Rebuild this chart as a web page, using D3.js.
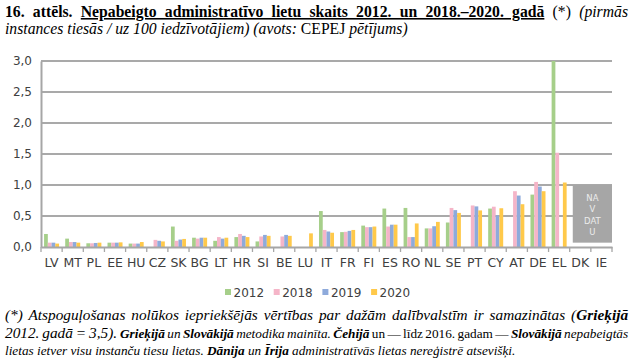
<!DOCTYPE html>
<html><head><meta charset="utf-8">
<script src="https://cdn.jsdelivr.net/npm/d3@7"></script>
<style>
html,body{margin:0;padding:0;background:#fff;}
svg{display:block;}
</style></head>
<body>
<svg id="chart" width="631" height="362"></svg>
<script>
const categories = ["LV","MT","PL","EE","HU","CZ","SK","BG","LT","HR","SI","BE","LU","IT","FR","FI","ES","RO","NL","SE","PT","CY","AT","DE","EL","DK","IE"];
const years = ["2012","2018","2019","2020"];
const v2012 = [0.21,0.135,0.06,0.07,0.055,null,0.33,0.15,0.10,0.16,0.09,null,null,0.58,0.24,0.345,0.62,0.63,0.30,0.395,null,0.62,null,0.845,3.5,null,null];
const v2018 = [0.07,0.08,0.06,0.07,0.055,0.115,0.10,0.135,0.16,0.21,0.17,0.17,null,0.275,0.245,0.32,0.33,0.16,0.30,0.63,0.67,0.65,0.90,1.05,1.52,null,null];
const v2019 = [0.07,0.08,0.065,0.07,0.055,0.10,0.12,0.15,0.135,0.18,0.195,0.195,null,0.25,0.26,0.32,0.36,0.16,0.335,0.595,0.655,0.51,0.83,0.975,null,null,null];
const v2020 = [0.055,0.07,0.07,0.075,0.08,0.09,0.13,0.15,0.15,0.16,0.18,0.18,0.22,0.23,0.275,0.33,0.36,0.38,0.405,0.55,0.59,0.625,0.69,0.90,1.04,null,null];
const yTicks = [0,0.5,1.0,1.5,2.0,2.5,3.0];
const colors = ["#a6cf8a","#f5b5c8","#8eaadb","#ffc94a"];
const naCats = ["DK","IE"];
const naLines = ["NA","V","DAT","U"];

const series = [v2012,v2018,v2019,v2020];
const svg = d3.select("#chart");
const plot = {left:41, right:612, top:61, bottom:247};

const x0 = d3.scaleBand().domain(categories).range([plot.left, plot.right]).paddingInner(0.29).paddingOuter(0.145);
const x1 = d3.scaleBand().domain(years).range([0, x0.bandwidth()]);
const y = d3.scaleLinear().domain([0,3]).range([plot.bottom, plot.top]).clamp(true);
const axisFont = "'DejaVu Sans', sans-serif";

// gridlines
svg.append("g").selectAll("line").data(yTicks.filter(d=>d>0)).join("line")
  .attr("x1", plot.left).attr("x2", plot.right)
  .attr("y1", d=>y(d)).attr("y2", d=>y(d))
  .attr("stroke","#8c8c8c").attr("stroke-width",1.3);

// y axis
const yAxis = d3.axisLeft(y).tickValues(yTicks).tickSize(0).tickPadding(9)
  .tickFormat(d=>d3.format(".1f")(d).replace(".",","));
const gy = svg.append("g").attr("transform",`translate(${plot.left},0)`).call(yAxis);
gy.select(".domain").attr("stroke","#a6a6a6").attr("stroke-width",2);
gy.selectAll("text").attr("font-family",axisFont).attr("font-size",12).attr("fill","#404040");

// bars
const groups = svg.append("g").selectAll("g").data(categories).join("g")
  .attr("transform", d=>`translate(${x0(d)},0)`);
groups.selectAll("rect").data((c,i)=>years.map((yr,k)=>({yr, k, v: series[k][i]})).filter(d=>d.v!=null))
  .join("rect")
  .attr("x", d=>x1(d.yr)).attr("width", x1.bandwidth())
  .attr("y", d=>y(d.v)).attr("height", d=>plot.bottom - y(d.v))
  .attr("fill", d=>colors[d.k]);

// x axis
const step = x0.step();
const xAxis = d3.axisBottom(x0).tickSize(0).tickPadding(11);
const gx = svg.append("g").attr("transform",`translate(0,${plot.bottom})`).call(xAxis);
gx.select(".domain").attr("stroke","#a6a6a6").attr("stroke-width",2);
gx.selectAll("text").attr("font-family",axisFont).attr("font-size",12.5).attr("fill","#404040");
// category boundary ticks
const bounds = categories.map(c=>x0(c) - step*x0.paddingInner()/2).concat([plot.right]);
svg.append("g").selectAll("line").data(bounds).join("line")
  .attr("x1",d=>d).attr("x2",d=>d).attr("y1",plot.bottom).attr("y2",plot.bottom+5)
  .attr("stroke","#a6a6a6").attr("stroke-width",1.3);

// NA box
const nx = x0(naCats[0]);
const nw = plot.right - nx;
svg.append("rect").attr("x",nx).attr("y",y(1.0)).attr("width",nw).attr("height",y(0.07)-y(1.0))
  .attr("fill","#a6a6a6");
svg.append("g").selectAll("text").data(naLines).join("text")
  .attr("x", nx + nw/2).attr("y",(d,i)=>y(1.0)+16+i*11.3)
  .attr("text-anchor","middle").attr("font-family",axisFont).attr("font-size",8.5)
  .attr("fill","#ececec").text(d=>d);

// legend
const lg = svg.append("g").selectAll("g").data(years).join("g")
  .attr("transform",(d,i)=>`translate(${225+i*48.7},292)`);
lg.append("rect").attr("x",0).attr("y",-3).attr("width",6).attr("height",6).attr("fill",(d,i)=>colors[i]);
lg.append("text").attr("x",8.5).attr("y",4.5).attr("font-family",axisFont).attr("font-size",12)
  .attr("fill","#404040").text(d=>d);

// rich text lines
const serif = "'Liberation Serif','Times New Roman',serif";
function richLine(parts, yPos, justifyWidth, size){
  const t = svg.append("text").attr("x",5).attr("y",yPos).attr("font-family",serif).attr("font-size",size).attr("fill","#000");
  parts.forEach(p=>{
    const s = t.append("tspan").text(p.t);
    if(p.b) s.attr("font-weight","bold");
    if(p.i) s.attr("font-style","italic");
    if(p.u) s.attr("text-decoration","underline");
    if(p.s) s.attr("font-size",p.s);
  });
  if(justifyWidth){
    const len = t.node().getComputedTextLength();
    const full = parts.map(p=>p.t).join("");
    const n = (full.match(/ /g)||[]).length;
    if(n>0) t.attr("word-spacing", ((justifyWidth-len)/n).toFixed(2));
  }
  return t;
}
const fs1 = 15.7;
richLine([
  {t:"16. attēls. ",b:1},
  {t:"Nepabeigto administratīvo lietu skaits 2012. un 2018.–2020. gadā",b:1,u:1},
  {t:" (*) "},
  {t:"(pirmās",i:1}
], 17, 623, fs1);
richLine([
  {t:"instances tiesās / uz 100 iedzīvotājiem) (avots: ",i:1},
  {t:"CEPEJ "},
  {t:"pētījums)",i:1}
], 34, null, fs1);

const fs2 = 13.25;
richLine([
  {t:"(*) Atspoguļošanas nolūkos iepriekšējās vērtības par dažām dalībvalstīm ir samazinātas (",i:1},
  {t:"Grieķijā",i:1,b:1}
], 320, 623, 15.3);
richLine([
  {t:"2012. gadā = 3,5). ",i:1},
  {t:"Grieķijā",i:1,b:1,s:fs2},
  {t:" un ",i:1,s:fs2},
  {t:"Slovākijā",i:1,b:1,s:fs2},
  {t:" metodika mainīta. ",i:1,s:fs2},
  {t:"Čehijā",i:1,b:1,s:fs2},
  {t:" un — līdz 2016. gadam — ",s:fs2},
  {t:"Slovākijā",i:1,b:1,s:fs2},
  {t:" nepabeigtās",i:1,s:fs2}
], 338, 623, 15.3);
richLine([
  {t:"lietas ietver visu instanču tiesu lietas. ",i:1,s:fs2},
  {t:"Dānija",i:1,b:1,s:fs2},
  {t:" un ",i:1,s:fs2},
  {t:"Īrija",i:1,b:1,s:fs2},
  {t:" administratīvās lietas nereģistrē atsevišķi.",i:1,s:fs2}
], 355, null, fs2);
</script>
</body></html>
